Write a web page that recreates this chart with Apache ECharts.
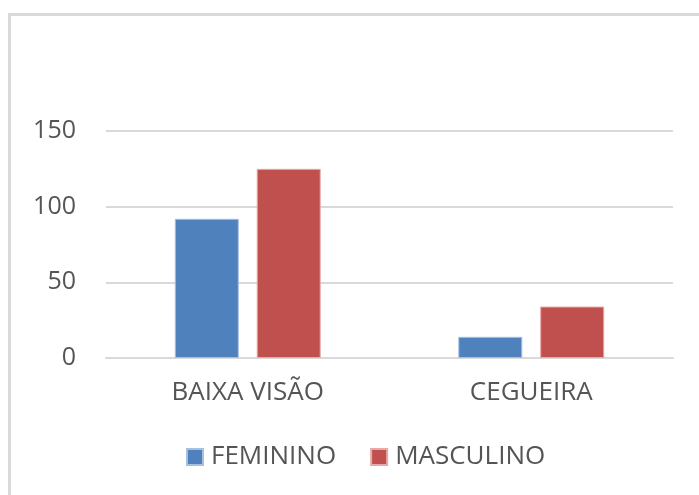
<!DOCTYPE html>
<html>
<head>
<meta charset="utf-8">
<script src="https://cdn.jsdelivr.net/npm/echarts@6/dist/echarts.min.js"></script>
<style>
html,body{margin:0;padding:0;background:#fff;}
#frame{position:absolute;left:8px;top:13px;width:700px;height:500px;border-left:3px solid #d9d9d9;border-top:3px solid #d9d9d9;box-sizing:border-box;}
#chart{position:absolute;left:0;top:0;width:699px;height:495px;}
</style>
</head>
<body>
<div id="frame"></div>
<div id="chart"></div>
<script>
const categories = ['BAIXA VISÃO', 'CEGUEIRA'];
const seriesNames = ['FEMININO', 'MASCULINO'];
const feminino = [92, 14];
const masculino = [125, 34];
const yTicks = [0, 50, 100, 150];

const font = '"Open Sans", sans-serif';
const txt = '#555555';
const chart = echarts.init(document.getElementById('chart'), null, {renderer: 'canvas'});
chart.setOption({
  animation: false,
  backgroundColor: 'transparent',
  color: ['#4f81bd', '#c0504d'],
  grid: {left: 106, right: 26, top: 131, bottom: 137, containLabel: false},
  legend: {
    data: seriesNames,
    left: 181,
    top: 439,
    itemWidth: 16,
    itemHeight: 16,
    itemGap: 34,
    icon: 'rect',
    textStyle: {color: txt, fontSize: 26, fontFamily: font, padding: [0, 0, 0, 3]}
  },
  xAxis: {
    type: 'category',
    data: categories,
    axisLine: {show: true, lineStyle: {color: '#d9d9d9', width: 2}},
    axisTick: {show: false},
    axisLabel: {color: txt, fontSize: 26, fontFamily: font, margin: 22}
  },
  yAxis: {
    type: 'value',
    min: yTicks[0],
    max: yTicks[yTicks.length - 1],
    interval: 50,
    axisLine: {show: false},
    axisTick: {show: false},
    splitLine: {lineStyle: {color: '#d9d9d9', width: 2}},
    axisLabel: {color: txt, fontSize: 25, fontFamily: font, margin: 30}
  },
  series: [
    {name: seriesNames[0], type: 'bar', data: feminino, barWidth: 64, barGap: '28%',
     itemStyle: {borderColor: '#a7c0de', borderWidth: 1}},
    {name: seriesNames[1], type: 'bar', data: masculino, barWidth: 64,
     itemStyle: {borderColor: '#e6a9a8', borderWidth: 1}}
  ]
});
</script>
</body>
</html>
